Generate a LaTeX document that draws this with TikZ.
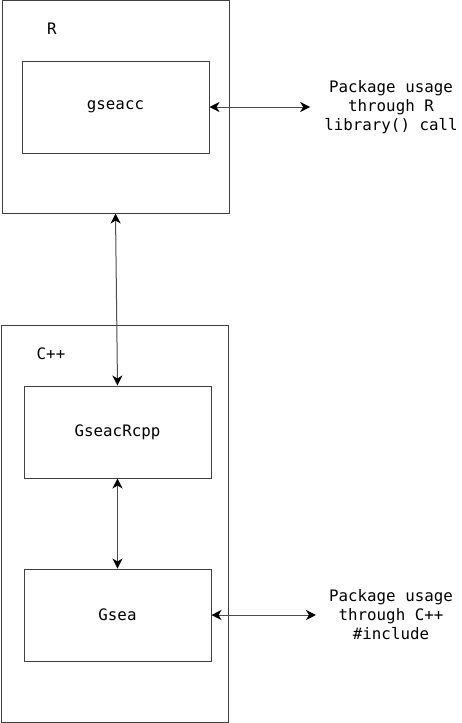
\documentclass[tikz,border=0pt]{standalone}
\usepackage{fontspec}
\setmonofont{DejaVu Sans Mono}
\usetikzlibrary{arrows.meta}
\begin{document}
\begin{tikzpicture}[x=1pt,y=-1pt,
  box/.style={draw=black!75,line width=1pt,inner sep=0pt,minimum width=#1},
  txt/.style={font=\fontsize{15.8}{19}\ttfamily,text=black},
  tip/.tip={Stealth[length=10pt,width=10pt,inset=3pt,black]},
  conn/.style={draw=black!70,line width=1pt,tip-tip}]
\useasboundingbox (0,0) rectangle (462,723);
\node[box=227pt,minimum height=213pt] (rbox) at (115.5,106.5) {};
\node[txt] (rlab) at (52,29) {R};
\node[box=187pt,minimum height=92pt,txt] (gseacc) at (115.5,107) {gseacc};
\node[box=227pt,minimum height=397pt] (cbox) at (114.5,523.5) {};
\node[txt] (clab) at (51,354) {C++};
\node[box=187pt,minimum height=92pt,txt] (rcpp) at (117.5,432) {GseacRcpp};
\node[box=187pt,minimum height=92pt,txt] (gsea) at (117.5,615) {Gsea};
\node[txt,align=center,inner xsep=14pt,inner ysep=0pt] (lbl1) at (391,107) {Package usage\\through R\\library() call};
\node[txt,align=center,inner xsep=13pt,inner ysep=0pt] (lbl2) at (391,615) {Package usage\\through C++\\\#include};
\draw[conn] (gseacc.east) -- (gseacc.east -| lbl1.west);
\draw[conn] (gsea.east) -- (gsea.east -| lbl2.west);
\draw[conn] (rbox.south) -- (rcpp.north);
\draw[conn] (rcpp.south) -- (gsea.north);
\end{tikzpicture}
\end{document}
